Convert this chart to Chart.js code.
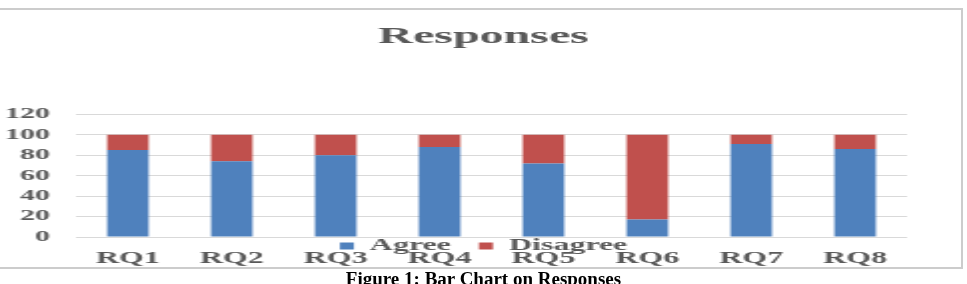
<!DOCTYPE html>
<html>
<head>
<meta charset="utf-8">
<script src="https://cdn.jsdelivr.net/npm/chart.js@4"></script>
<style>
  html, body { margin: 0; padding: 0; background: #fff; overflow: hidden; }
  body { width: 967px; height: 284px; position: relative; }
  #frame {
    position: absolute; left: -3px; top: 8px; width: 966px; height: 261px;
    box-sizing: border-box; border: 2px solid #cccccc; background: #fff;
  }
  #wrap {
    position: absolute; left: 0; top: 0; width: 484px; height: 307px;
    transform: scaleX(1.998); transform-origin: 0 0;
  }
  #caption {
    position: absolute; left: 0; top: 269px; width: 967px; text-align: center;
    font: bold 19px/19px "Liberation Serif", serif; color: #000;
  }
</style>
</head>
<body>
<div id="frame"></div>
<div id="wrap"><canvas id="graficoRespostas"></canvas></div>
<div id="caption">Figure 1: Bar Chart on Responses</div>
<script>
const categorias = ["RQ1", "RQ2", "RQ3", "RQ4", "RQ5", "RQ6", "RQ7", "RQ8"];
const agree = [85, 74, 80, 88, 72, 17, 91, 86];
const disagree = [15, 26, 20, 12, 28, 83, 9, 14];
const yTicks = [0, 20, 40, 60, 80, 100, 120];

const cinza = "#595959";
const serif = "'Liberation Serif', 'Times New Roman', serif";

// legend sits between the axis and the category labels, like the original
const moveLegend = {
    id: "moveLegend",
    afterLayout(chart) {
        const lg = chart.legend;
        const h = lg.bottom - lg.top;
        lg.top = 224;
        lg.bottom = lg.top + h;
    }
};

new Chart(document.getElementById("graficoRespostas"), {
    type: "bar",
    data: {
        labels: categorias,
        datasets: [
            { label: "Agree", data: agree, backgroundColor: "#4F81BD", borderWidth: 0 },
            { label: "Disagree", data: disagree, backgroundColor: "#C0504D", borderWidth: 0 }
        ]
    },
    options: {
        responsive: true,
        maintainAspectRatio: false,
        animation: false,
        datasets: { bar: { categoryPercentage: 1, barPercentage: 0.4 } },
        layout: { padding: 0 },
        scales: {
            x: {
                stacked: true,
                grid: { display: false },
                border: { display: false },
                ticks: { color: cinza, padding: 4, font: { family: serif, size: 16, weight: "bold" } },
                afterFit(s) { s.height = 30 }
            },
            y: {
                stacked: true,
                min: yTicks[0],
                max: yTicks[yTicks.length - 1],
                grid: { color: "#d9d9d9", drawTicks: false },
                border: { display: false },
                ticks: {
                    stepSize: yTicks[1] - yTicks[0],
                    autoSkip: false,
                    color: cinza,
                    padding: 13,
                    font: { family: serif, size: 15, weight: "bold" }
                },
                afterFit(s) { s.width = 38 }
            },
            // empty space on the right so the title stays centred on the page
            direita: {
                position: "right",
                grid: { display: false },
                border: { display: false },
                ticks: { display: false },
                afterFit(s) { s.width = 30 }
            }
        },
        plugins: {
            title: {
                display: true,
                text: "Responses",
                color: cinza,
                padding: { top: 22, bottom: 63.5 },
                font: { family: serif, size: 24, weight: "bold" }
            },
            legend: {
                position: "bottom",
                labels: {
                    color: cinza,
                    boxWidth: 7,
                    boxHeight: 7,
                    padding: 14,
                    font: { family: serif, size: 16, weight: "bold" }
                }
            },
            tooltip: { enabled: false }
        }
    },
    plugins: [moveLegend]
});
</script>
</body>
</html>
